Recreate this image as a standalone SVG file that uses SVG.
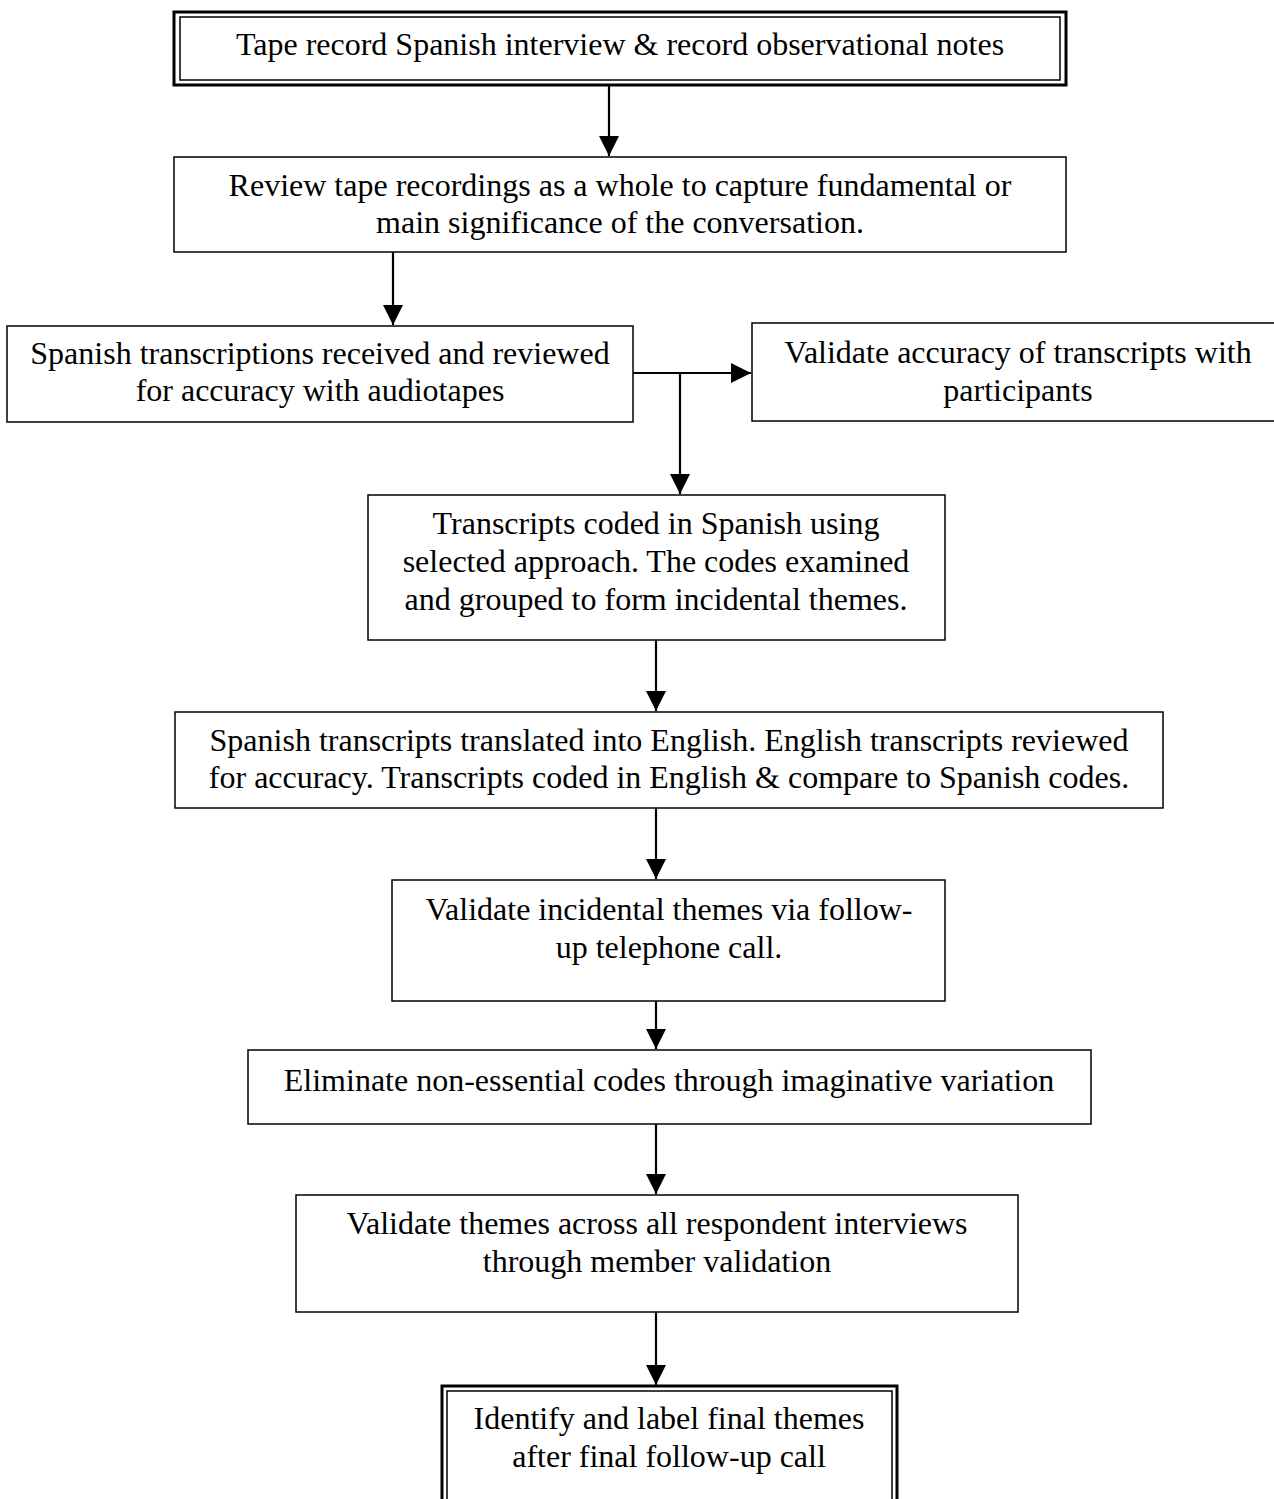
<svg xmlns="http://www.w3.org/2000/svg" width="1274" height="1499" viewBox="0 0 1274 1499">
<defs>
<marker id="ah" markerWidth="20" markerHeight="20" refX="20" refY="10" orient="auto" markerUnits="userSpaceOnUse" viewBox="0 0 20 20">
<path d="M0,0 L20,10 L0,20 Z" fill="#000"/>
</marker>
<style>
.box{fill:#fff;stroke:#000;stroke-width:1.5}
.outer{fill:#fff;stroke:#000;stroke-width:3}
.inner{fill:none;stroke:#000;stroke-width:1.5}
.t{font-family:"Liberation Serif","Times New Roman",serif;font-size:32px;fill:#000;text-anchor:middle}
.c{stroke:#000;stroke-width:2.2;fill:none}
</style>
</defs>
<rect width="1274" height="1499" fill="#fff"/>
<g id="connectors">
<line class="c" x1="609" y1="85" x2="609" y2="156" marker-end="url(#ah)"/>
<line class="c" x1="393" y1="252" x2="393" y2="325" marker-end="url(#ah)"/>
<line class="c" x1="633" y1="373" x2="751" y2="373" marker-end="url(#ah)"/>
<line class="c" x1="680" y1="373" x2="680" y2="494" marker-end="url(#ah)"/>
<line class="c" x1="656" y1="640" x2="656" y2="711" marker-end="url(#ah)"/>
<line class="c" x1="656" y1="808" x2="656" y2="879" marker-end="url(#ah)"/>
<line class="c" x1="656" y1="1001" x2="656" y2="1049" marker-end="url(#ah)"/>
<line class="c" x1="656" y1="1124" x2="656" y2="1194" marker-end="url(#ah)"/>
<line class="c" x1="656" y1="1312" x2="656" y2="1385" marker-end="url(#ah)"/>
</g>
<g id="n1">
<rect class="outer" x="174" y="12" width="892" height="73"/>
<rect class="inner" x="180" y="17" width="880" height="63"/>
<text class="t" x="620" y="55">Tape record Spanish interview &amp; record observational notes</text>
</g>
<g id="n2">
<rect class="box" x="174" y="157" width="892" height="95"/>
<text class="t" x="620" y="196">Review tape recordings as a whole to capture fundamental or</text>
<text class="t" x="620" y="233">main significance of the conversation.</text>
</g>
<g id="n3">
<rect class="box" x="7" y="326" width="626" height="96"/>
<text class="t" x="320" y="364">Spanish transcriptions received and reviewed</text>
<text class="t" x="320" y="401">for accuracy with audiotapes</text>
</g>
<g id="n4">
<rect class="box" x="752" y="323" width="530" height="98"/>
<text class="t" x="1018" y="363">Validate accuracy of transcripts with</text>
<text class="t" x="1018" y="401">participants</text>
</g>
<g id="n5">
<rect class="box" x="368" y="495" width="577" height="145"/>
<text class="t" x="656" y="534">Transcripts coded in Spanish using</text>
<text class="t" x="656" y="572">selected approach. The codes examined</text>
<text class="t" x="656" y="610">and grouped to form incidental themes.</text>
</g>
<g id="n6">
<rect class="box" x="175" y="712" width="988" height="96"/>
<text class="t" x="669" y="751">Spanish transcripts translated into English. English transcripts reviewed</text>
<text class="t" x="669" y="788">for accuracy. Transcripts coded in English &amp; compare to Spanish codes.</text>
</g>
<g id="n7">
<rect class="box" x="392" y="880" width="553" height="121"/>
<text class="t" x="669" y="920">Validate incidental themes via follow-</text>
<text class="t" x="669" y="958">up telephone call.</text>
</g>
<g id="n8">
<rect class="box" x="248" y="1050" width="843" height="74"/>
<text class="t" x="669" y="1091">Eliminate non-essential codes through imaginative variation</text>
</g>
<g id="n9">
<rect class="box" x="296" y="1195" width="722" height="117"/>
<text class="t" x="657" y="1234">Validate themes across all respondent interviews</text>
<text class="t" x="657" y="1272">through member validation</text>
</g>
<g id="n10">
<rect class="outer" x="442" y="1386" width="455" height="120"/>
<rect class="inner" x="447" y="1391" width="445" height="120"/>
<text class="t" x="669" y="1429">Identify and label final themes</text>
<text class="t" x="669" y="1467">after final follow-up call</text>
</g>
</svg>
